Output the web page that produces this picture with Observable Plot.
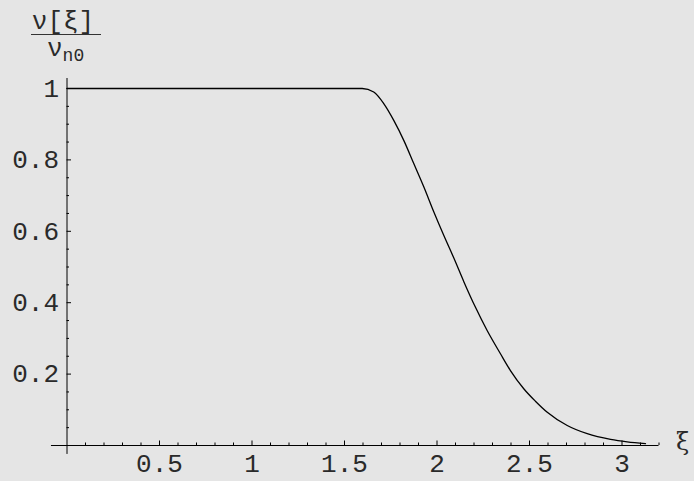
<!DOCTYPE html>
<html>
<head>
<meta charset="utf-8">
<script src="https://cdn.jsdelivr.net/npm/d3@7"></script>
<script src="https://cdn.jsdelivr.net/npm/@observablehq/plot@0.6"></script>
<style>
  html, body { margin: 0; padding: 0; background: #e5e5e5; }
  #chart { width: 694px; height: 481px; }
</style>
</head>
<body>
<div id="chart"></div>
<script>
// curve samples: xi vs nu/nu_n0
const xi = [0, 1.596, 1.658, 1.713, 1.767, 1.821, 1.875, 1.929, 1.983, 2.037, 2.091, 2.145, 2.208, 2.271, 2.343, 2.397, 2.469, 2.532, 2.596, 2.704, 2.812, 2.938, 3.028, 3.127];
const nu = [1, 1, 0.990, 0.957, 0.910, 0.854, 0.789, 0.724, 0.654, 0.588, 0.525, 0.459, 0.387, 0.322, 0.257, 0.210, 0.159, 0.124, 0.093, 0.056, 0.033, 0.017, 0.010, 0.005];

// tick labels
const xTicks = [0.5, 1, 1.5, 2, 2.5, 3];
const xTickLabels = ["0.5", "1", "1.5", "2", "2.5", "3"];
const yTicks = [0.2, 0.4, 0.6, 0.8, 1];
const yTickLabels = ["0.2", "0.4", "0.6", "0.8", "1"];
const xMinor = [0.1,0.2,0.3,0.4,0.6,0.7,0.8,0.9,1.1,1.2,1.3,1.4,1.6,1.7,1.8,1.9,2.1,2.2,2.3,2.4,2.6,2.7,2.8,2.9,3.1,3.2];
const yMinor = [0.05,0.1,0.15,0.25,0.3,0.35,0.45,0.5,0.55,0.65,0.7,0.75,0.85,0.9,0.95];

// axis extents (data units)
const xAxisExtent = [-0.084, 3.2];
const yAxisExtent = [-0.025, 1.028];

const data = xi.map((x, i) => ({x, y: nu[i]}));
const fmtX = d => xTickLabels[xTicks.indexOf(d)];
const fmtY = d => yTickLabels[yTicks.indexOf(d)];
const mono = "'Liberation Mono', 'Courier New', monospace";

const plot = Plot.plot({
  width: 694,
  height: 481,
  marginLeft: 66.5,
  marginRight: 72.5,
  marginTop: 88,
  marginBottom: 36,
  style: {background: "#e5e5e5", fontFamily: mono, fontSize: "26px", color: "#222"},
  x: {domain: [0, 3]},
  y: {domain: [0, 1]},
  marks: [
    Plot.ruleY([0], {x1: xAxisExtent[0], x2: xAxisExtent[1], stroke: "#000", strokeWidth: 1}),
    Plot.ruleX([0], {y1: yAxisExtent[0], y2: yAxisExtent[1], stroke: "#000", strokeWidth: 1}),
    Plot.axisX(xMinor, {tickSize: -2.5, tickFormat: () => "", label: null, stroke: "#000"}),
    Plot.axisX(xTicks, {tickSize: -4.5, tickFormat: () => "", label: null, stroke: "#000"}),
    Plot.axisX(xTicks, {tickSize: 0, tickPadding: 8, tickFormat: fmtX, label: null, fill: "#2a2a2a"}),
    Plot.axisY(yMinor, {tickSize: -2.5, tickFormat: () => "", label: null, stroke: "#000"}),
    Plot.axisY(yTicks, {tickSize: -4.5, tickFormat: () => "", label: null, stroke: "#000"}),
    Plot.axisY(yTicks, {tickSize: 0, tickPadding: 8, tickFormat: fmtY, label: null, fill: "#2a2a2a"}),
    Plot.line(data, {x: "x", y: "y", stroke: "#000", strokeWidth: 1.3, curve: "monotone-x"})
  ]
});
document.getElementById("chart").appendChild(plot);

// axis labels (Mathematica-style)
const svg = d3.select(plot);
svg.append("text").attr("x", 63).attr("y", 29).attr("text-anchor", "middle")
  .attr("font-family", mono).attr("font-size", 26).attr("fill", "#2a2a2a").text("ν[ξ]");
svg.append("line").attr("x1", 31).attr("x2", 101).attr("y1", 34.5).attr("y2", 34.5)
  .attr("stroke", "#333").attr("stroke-width", 1);
const den = svg.append("text").attr("x", 47).attr("y", 56).attr("text-anchor", "start")
  .attr("font-family", mono).attr("font-size", 26).attr("fill", "#2a2a2a");
den.append("tspan").text("ν");
den.append("tspan").attr("font-size", 18).attr("dy", 5).attr("dx", 0).text("n0");
svg.append("text").attr("x", 676).attr("y", 450).attr("text-anchor", "start")
  .attr("font-family", "'DejaVu Serif', serif").attr("font-size", 24).attr("fill", "#2a2a2a").text("ξ");
</script>
</body>
</html>
